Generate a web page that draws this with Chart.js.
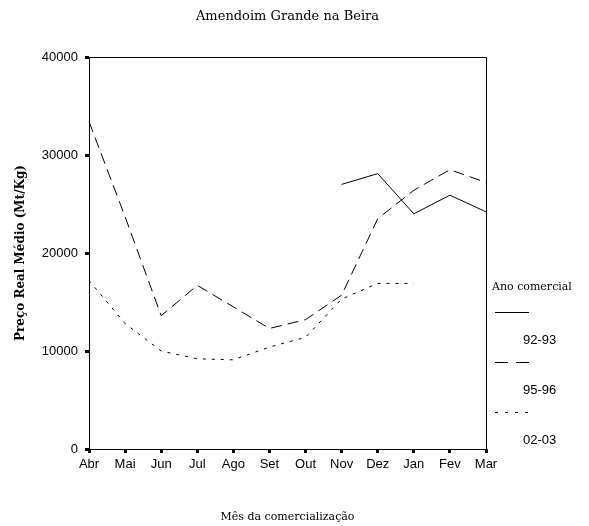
<!DOCTYPE html>
<html>
<head>
<meta charset="utf-8">
<title>Amendoim Grande na Beira</title>
<script src="https://cdn.jsdelivr.net/npm/chart.js@4/dist/chart.umd.min.js"></script>
<style>
    html, body { margin: 0; padding: 0; background: #fff; }
    #wrap { width: 589px; height: 526px; }
</style>
</head>
<body>
<div id="wrap"><canvas id="precoChart" width="589" height="526"></canvas></div>
<script>
const months = ['Abr', 'Mai', 'Jun', 'Jul', 'Ago', 'Set', 'Out', 'Nov', 'Dez', 'Jan', 'Fev', 'Mar'];
const yTicks = [0, 10000, 20000, 30000, 40000];
const seriesNames = ['92-93', '95-96', '02-03'];
const preco9293 = [null, null, null, null, null, null, null, 27000, 28100, 24000, 25900, 24200];
const preco9596 = [33400, 23700, 13600, 16700, 14500, 12300, 13200, 15700, 23500, 26400, 28500, 27200];
const preco0203 = [17200, 12800, 10000, 9200, 9100, 10400, 11400, 15300, 16900, 16900, null, null];

const serif = 'DejaVu Serif';
const sans = 'Liberation Sans';

// box round the plot + legend on the right, drawn from the datasets
const frameAndLegend = {
    id: 'frameAndLegend',
    afterDraw(chart) {
        const { ctx, chartArea: a } = chart;
        ctx.save();
        ctx.strokeStyle = '#000';
        ctx.lineWidth = 1;
        ctx.beginPath();
        ctx.moveTo(a.left, a.top + 0.5);
        ctx.lineTo(a.right + 0.5, a.top + 0.5);
        ctx.lineTo(a.right + 0.5, a.bottom);
        ctx.stroke();

        const x0 = a.right + 6;
        ctx.fillStyle = '#000';
        ctx.textBaseline = 'middle';
        ctx.textAlign = 'left';
        ctx.font = '11px "' + serif + '"';
        ctx.fillText('Ano comercial', x0, 287);

        chart.data.datasets.forEach((ds, i) => {
            const ly = 312 + i * 50 + 0.5;
            ctx.setLineDash(ds.legendDash || ds.borderDash || []);
            ctx.beginPath();
            ctx.moveTo(x0 + 3, ly);
            ctx.lineTo(x0 + 37, ly);
            ctx.stroke();
            ctx.setLineDash([]);
            ctx.font = '13px "' + sans + '"';
            ctx.fillText(ds.label, x0 + 31, 340 + i * 50);
        });
        ctx.restore();
    }
};

const ctx = document.getElementById('precoChart').getContext('2d');
new Chart(ctx, {
    type: 'line',
    data: {
        labels: months,
        datasets: [
            { label: seriesNames[0], data: preco9293, borderDash: [] },
            { label: seriesNames[1], data: preco9596, borderDash: [11, 6], legendDash: [13, 8] },
            { label: seriesNames[2], data: preco0203, borderDash: [3, 6], legendDash: [3, 7] }
        ].map(ds => Object.assign({
            borderColor: '#000',
            borderWidth: 1,
            pointRadius: 0,
            tension: 0,
            fill: false
        }, ds))
    },
    options: {
        responsive: false,
        animation: false,
        devicePixelRatio: 1,
        layout: { padding: { left: 0, right: 103, top: 0, bottom: 0 } },
        plugins: {
            legend: { display: false },
            tooltip: { enabled: false },
            title: {
                display: true,
                fullSize: false,
                text: 'Amendoim Grande na Beira',
                color: '#000',
                font: { family: serif, size: 13, weight: 'normal' },
                padding: { top: 9, bottom: 32.4 }
            }
        },
        scales: {
            x: {
                offset: false,
                afterFit: s => { s.height = 77; },
                grid: { drawOnChartArea: false, drawTicks: true, tickLength: 4, lineWidth: 3, color: '#000' },
                border: { display: true, color: '#000', width: 1 },
                ticks: { color: '#000', padding: 4, maxRotation: 0, autoSkip: false, font: { family: sans, size: 13 } },
                title: {
                    display: true,
                    text: 'Mês da comercialização',
                    color: '#000',
                    font: { family: serif, size: 11 },
                    padding: { top: 0, bottom: 2 }
                }
            },
            y: {
                min: 0,
                max: 40000,
                afterFit: s => { s.width = 89; },
                afterBuildTicks: s => { s.ticks = yTicks.map(v => ({ value: v })); },
                grid: { drawOnChartArea: false, drawTicks: true, tickLength: 4, lineWidth: 3, color: '#000' },
                border: { display: true, color: '#000', width: 1 },
                ticks: { color: '#000', padding: 7, font: { family: sans, size: 13 }, callback: v => String(v) },
                title: {
                    display: true,
                    text: 'Preço Real Médio (Mt/Kg)',
                    color: '#000',
                    font: { family: serif, size: 12, weight: 'bold' },
                    padding: { top: 14, bottom: 0 }
                }
            }
        }
    },
    plugins: [frameAndLegend]
});
</script>
</body>
</html>
